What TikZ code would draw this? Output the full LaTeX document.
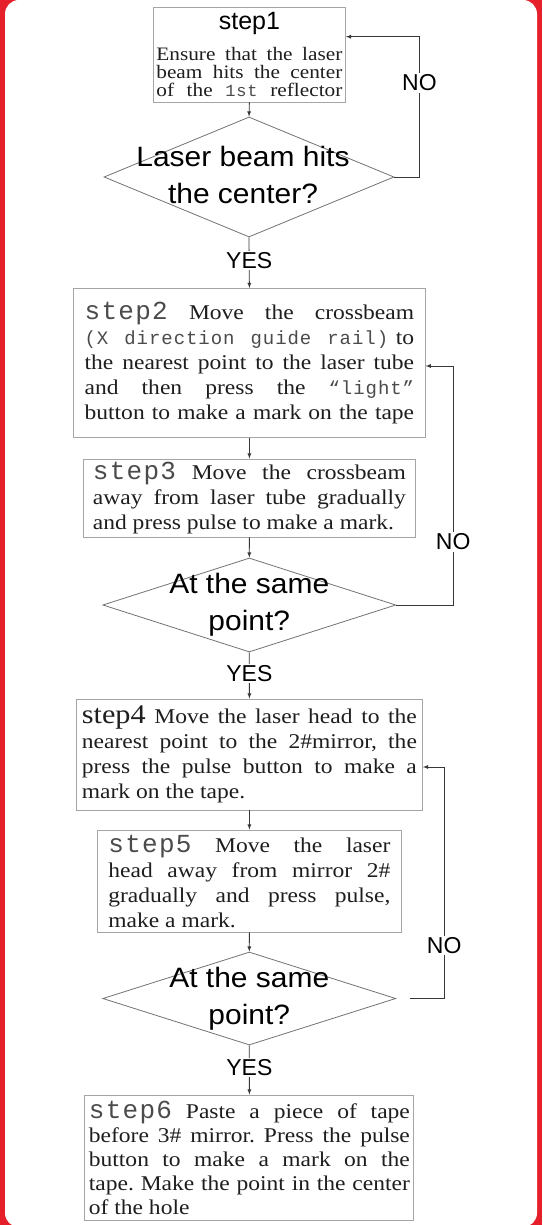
\documentclass[tikz,border=0pt]{standalone}
\usepackage{fontspec}
\setmainfont{Liberation Serif}[FakeStretch=1.12]
\setsansfont{Liberation Sans}
\newfontfamily\labfont{Liberation Mono}[LetterSpace=5]
\newfontfamily\dfam{Liberation Sans}[FakeStretch=1.07]
\usetikzlibrary{shapes.geometric}

\definecolor{bordred}{RGB}{229,32,43}
\definecolor{boxgray}{RGB}{165,165,165}
\definecolor{diagray}{RGB}{115,115,115}
\definecolor{arrgray}{RGB}{55,55,55}
\definecolor{txtgray}{RGB}{30,30,30}
\definecolor{labgray}{RGB}{75,75,75}

\newcommand\bodyfont{\fontsize{21}{25}\selectfont}
\newcommand\dfont{\dfam\fontsize{28}{37}\selectfont}
\newcommand\lfont{\sffamily\fontsize{23}{26}\selectfont}
\newcommand\steplab[1]{{\color{labgray}\labfont\fontsize{26}{25}\selectfont #1}}
\newcommand\mon[2][19]{{\color{labgray}\labfont\fontsize{#1}{25}\selectfont #2}}

\tolerance=10000
\hbadness=10000
\frenchspacing

\tikzset{
	stepbox/.style={draw=boxgray, line width=0.9pt, fill=white, align=justify, font=\bodyfont, text=txtgray, inner ysep=0pt},
	decision/.style={diamond, draw=diagray, line width=0.8pt, inner sep=0pt},
	dtext/.style={font=\dfont, align=center, text=black, inner sep=0pt},
	flow/.style={draw=arrgray, line width=0.8pt, -latex},
	yeslab/.style={fill=white, font=\lfont, text=black, inner sep=1.5pt, pos=0.45},
	nolab/.style={fill=white, font=\lfont, text=black, inner sep=1.5pt}
}

\begin{document}
\begin{tikzpicture}[x=1pt, y=-1pt]
		\useasboundingbox (0,0) rectangle (542,1225);
		\fill[bordred] (0,0) rectangle (542,1225);
		\fill[white, rounded corners=14pt] (5,0) rectangle (537,1227);

		\node[stepbox, text width=186pt, inner xsep=3pt, minimum height=95pt] (s1) at (249.4,54.5) {\vspace*{6pt}{\centering\sffamily\fontsize{25}{26}\selectfont\color{black}step1\par}\vspace{6pt}\fontsize{19}{18}\selectfont\parfillskip=0pt Ensure that the laser\linebreak beam hits the center\linebreak of the \mon[17]{1st} reflector\par};
		\node[decision, minimum width=290pt, minimum height=120pt] (d1) at (249,177) {};
		\node[dtext] (t1) at ([xshift=-6pt,yshift=2pt]d1.center) {Laser beam hits\\the center?};

		\node[stepbox, text width=329.5pt, inner xsep=11pt, minimum height=149pt] (s2) at (249.4,363) {\steplab{step2} Move the crossbeam\linebreak \mon{(X direction guide rail)} to\linebreak the nearest point to the laser tube\linebreak and then press the \mon{“light”}\linebreak button to make a mark on the tape\parfillskip=0pt\par};
		\node[stepbox, text width=313pt, inner xsep=9.5pt, minimum height=78pt] (s3) at (249.4,498) {\steplab{step3} Move the crossbeam\linebreak away from laser tube gradually\linebreak and press pulse to make a mark.};
		\node[decision, minimum width=293pt, minimum height=94pt] (d2) at (249.3,605) {};
		\node[dtext] (t2) at (d2.center) {At the same\\point?};

		\node[stepbox, text width=335pt, inner xsep=5.5pt, minimum height=111pt] (s4) at (249.4,754.5) {{\fontsize{27}{25}\selectfont step4} Move the laser head to the\linebreak nearest point to the 2\#mirror, the\linebreak press the pulse button to make a\linebreak mark on the tape.};
		\node[stepbox, text width=282pt, inner xsep=11pt, minimum height=102pt] (s5) at (249.4,881) {\steplab{step5} Move the laser\linebreak head away from mirror 2\#\linebreak gradually and press pulse,\linebreak make a mark.};
		\node[decision, minimum width=293pt, minimum height=93pt] (d3) at (249.3,998.5) {};
		\node[dtext] (t3) at (d3.center) {At the same\\point?};

		\node[stepbox, text width=321pt, inner xsep=4pt, minimum height=125pt, font=\fontsize{21}{24}\selectfont] (s6) at (249.4,1157.5) {\steplab{step6} Paste a piece of tape\linebreak before 3\# mirror. Press the pulse\linebreak button to make a mark on the\linebreak tape. Make the point in the center\linebreak of the hole};

		\foreach \a/\b in {s1/d1, s2/s3, s3/d2, s4/s5, s5/d3}{
				\draw[flow] (\a.south) -- (\b.north);
			}
		\foreach \a/\b/\n in {d1/s2/1, d2/s4/2, d3/s6/3}{
				\draw[flow] (\a.south) -- node[yeslab] (yes\n) {YES} (\b.north);
			}

		\draw[flow] (d1.east) -- ++(25,0) |- node[nolab, pos=0.335] (no1) {NO} ([yshift=17.8pt]s1.east);
		\draw[flow] (d2.east) -- ++(57,0) |- node[nolab, pos=0.132] (no2) {NO} ([yshift=-3pt]s2.east);
		\draw[flow, shorten <=14pt] (d3.east) -- ++(48,0) |- node[nolab, pos=0.115] (no3) {NO} ([yshift=-12.5pt]s4.east);
	\end{tikzpicture}
\end{document}
